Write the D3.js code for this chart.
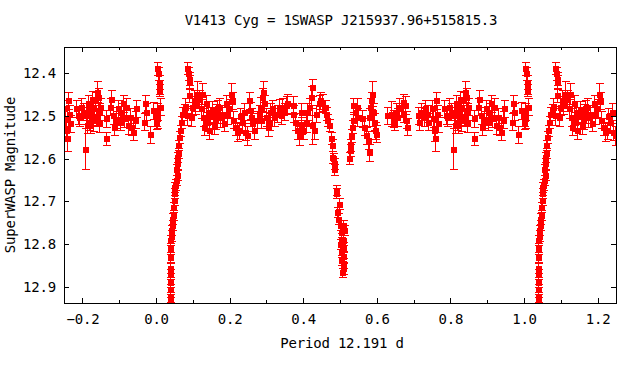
<!DOCTYPE html>
<html>
<head>
<meta charset="utf-8">
<script src="https://cdn.jsdelivr.net/npm/d3@7"></script>
<style>
	body { margin: 0; background: #fff; }
	text { font-family: "DejaVu Sans Mono", monospace; font-size: 14px; letter-spacing: -0.2px; fill: #000; }
</style>
</head>
<body>
<div id="chart"></div>
<script>
// phase, magnitude, error  (one cycle, drawn again at phase-1 and phase+1)
const brightSpikes = [
	[0.003, 12.388, 0.015], [0.005, 12.400, 0.015], [0.007, 12.420, 0.017], [0.008, 12.431, 0.016], [0.009, 12.439, 0.015],
	[0.085, 12.388, 0.014], [0.087, 12.400, 0.015], [0.089, 12.412, 0.015], [0.091, 12.420, 0.016], [0.089, 12.451, 0.017],
];

const primaryEgress = [
	[0.038, 12.935, 0.012], [0.039, 12.924, 0.012], [0.038, 12.905, 0.012], [0.038, 12.888, 0.012],
	[0.038, 12.870, 0.012], [0.037, 12.856, 0.012], [0.037, 12.830, 0.012], [0.039, 12.810, 0.012],
	[0.039, 12.791, 0.012], [0.040, 12.780, 0.012], [0.041, 12.767, 0.012], [0.043, 12.755, 0.012],
	[0.044, 12.740, 0.012], [0.047, 12.732, 0.012], [0.047, 12.713, 0.012], [0.048, 12.697, 0.012],
	[0.050, 12.681, 0.012], [0.050, 12.666, 0.012], [0.052, 12.660, 0.012], [0.053, 12.650, 0.012],
	[0.056, 12.638, 0.012], [0.055, 12.625, 0.012], [0.058, 12.611, 0.012], [0.058, 12.595, 0.012],
	[0.060, 12.587, 0.012], [0.059, 12.568, 0.012], [0.062, 12.549, 0.013], [0.065, 12.533, 0.013],
	[0.067, 12.513, 0.014], [0.071, 12.494, 0.015], [0.076, 12.486, 0.015],
];

const secondaryEclipse = [
	[0.458, 12.478, 0.015], [0.461, 12.494, 0.015], [0.466, 12.509, 0.015], [0.470, 12.521, 0.015],
	[0.475, 12.552, 0.014], [0.477, 12.568, 0.014], [0.479, 12.595, 0.014], [0.481, 12.599, 0.012],
	[0.483, 12.611, 0.012], [0.484, 12.625, 0.012], [0.488, 12.674, 0.012], [0.490, 12.681, 0.012],
	[0.496, 12.705, 0.012], [0.493, 12.724, 0.012], [0.495, 12.740, 0.012], [0.500, 12.756, 0.012],
	[0.509, 12.756, 0.012], [0.502, 12.771, 0.012], [0.511, 12.767, 0.012], [0.504, 12.787, 0.012],
	[0.509, 12.791, 0.012], [0.500, 12.799, 0.012], [0.507, 12.807, 0.012], [0.502, 12.818, 0.012],
	[0.507, 12.829, 0.012], [0.504, 12.838, 0.012], [0.508, 12.845, 0.012], [0.507, 12.857, 0.012],
	[0.506, 12.866, 0.010], [0.524, 12.599, 0.014], [0.526, 12.580, 0.014], [0.527, 12.568, 0.014],
	[0.529, 12.545, 0.015], [0.532, 12.525, 0.015], [0.534, 12.509, 0.015], [0.536, 12.474, 0.016],
	[0.540, 12.490, 0.016],
];

const outOfEclipse = [
	[0.000, 12.513, 0.018], [0.002, 12.490, 0.020], [0.004, 12.505, 0.022], [0.010, 12.478, 0.020],
	[0.080, 12.478, 0.020], [0.083, 12.498, 0.022], [0.094, 12.502, 0.020], [0.098, 12.478, 0.020],
	[0.103, 12.463, 0.024], [0.107, 12.474, 0.020], [0.112, 12.447, 0.030], [0.116, 12.459, 0.020],
	[0.121, 12.482, 0.022], [0.126, 12.447, 0.025], [0.128, 12.502, 0.020], [0.130, 12.525, 0.020],
	[0.135, 12.470, 0.020], [0.139, 12.513, 0.022], [0.142, 12.490, 0.025], [0.144, 12.533, 0.020],
	[0.148, 12.498, 0.020], [0.153, 12.486, 0.021], [0.157, 12.521, 0.020], [0.160, 12.510, 0.020],
	[0.162, 12.494, 0.022], [0.166, 12.482, 0.020], [0.171, 12.478, 0.020], [0.175, 12.502, 0.023],
	[0.180, 12.495, 0.020], [0.185, 12.515, 0.020], [0.190, 12.470, 0.020], [0.194, 12.498, 0.020],
	[0.198, 12.482, 0.021], [0.205, 12.447, 0.025], [0.207, 12.463, 0.020], [0.210, 12.509, 0.020],
	[0.216, 12.525, 0.020], [0.221, 12.537, 0.022], [0.225, 12.533, 0.020], [0.228, 12.500, 0.020],
	[0.234, 12.513, 0.020], [0.238, 12.490, 0.020], [0.243, 12.537, 0.020], [0.248, 12.545, 0.022],
	[0.252, 12.463, 0.020], [0.255, 12.486, 0.020], [0.259, 12.502, 0.020], [0.262, 12.513, 0.021],
	[0.266, 12.533, 0.020], [0.275, 12.509, 0.020], [0.280, 12.494, 0.020], [0.282, 12.478, 0.022],
	[0.284, 12.509, 0.020], [0.289, 12.455, 0.020], [0.292, 12.443, 0.025], [0.293, 12.470, 0.020],
	[0.298, 12.502, 0.020], [0.303, 12.525, 0.022], [0.307, 12.513, 0.020], [0.311, 12.490, 0.020],
	[0.316, 12.482, 0.020], [0.320, 12.502, 0.020], [0.328, 12.494, 0.020], [0.334, 12.482, 0.021],
	[0.339, 12.498, 0.020], [0.343, 12.478, 0.020], [0.348, 12.490, 0.020], [0.352, 12.474, 0.020],
	[0.355, 12.470, 0.022], [0.371, 12.474, 0.020], [0.373, 12.494, 0.020], [0.379, 12.513, 0.020],
	[0.384, 12.533, 0.020], [0.388, 12.545, 0.022], [0.393, 12.490, 0.020], [0.395, 12.521, 0.020],
	[0.400, 12.533, 0.020], [0.407, 12.517, 0.020], [0.411, 12.490, 0.020], [0.416, 12.478, 0.020],
	[0.420, 12.455, 0.025], [0.423, 12.432, 0.020], [0.425, 12.520, 0.045], [0.428, 12.533, 0.020],
	[0.434, 12.494, 0.020], [0.443, 12.470, 0.020], [0.447, 12.463, 0.020], [0.452, 12.467, 0.020],
	[0.545, 12.502, 0.020], [0.547, 12.478, 0.020], [0.561, 12.505, 0.020], [0.565, 12.525, 0.020],
	[0.570, 12.545, 0.020], [0.575, 12.556, 0.022], [0.578, 12.585, 0.020], [0.579, 12.502, 0.020],
	[0.582, 12.478, 0.020], [0.585, 12.463, 0.020], [0.588, 12.447, 0.030], [0.591, 12.490, 0.020],
	[0.592, 12.513, 0.020], [0.594, 12.533, 0.020], [0.597, 12.541, 0.020],
	[0.629, 12.498, 0.020], [0.638, 12.494, 0.030], [0.643, 12.505, 0.020], [0.647, 12.513, 0.020],
	[0.651, 12.490, 0.020], [0.656, 12.502, 0.020], [0.660, 12.478, 0.020], [0.670, 12.494, 0.020],
	[0.672, 12.467, 0.020], [0.676, 12.474, 0.020], [0.679, 12.509, 0.020], [0.681, 12.525, 0.020],
	[0.711, 12.498, 0.020], [0.715, 12.513, 0.020], [0.721, 12.490, 0.020], [0.727, 12.502, 0.020],
	[0.730, 12.482, 0.020], [0.736, 12.494, 0.020], [0.739, 12.513, 0.020], [0.751, 12.482, 0.020],
	[0.754, 12.505, 0.020], [0.756, 12.533, 0.025], [0.758, 12.552, 0.030], [0.760, 12.463, 0.020],
	[0.763, 12.494, 0.020], [0.765, 12.517, 0.020],
	[0.783, 12.482, 0.020], [0.788, 12.498, 0.020], [0.792, 12.502, 0.020], [0.797, 12.478, 0.020],
	[0.801, 12.490, 0.020], [0.806, 12.577, 0.048], [0.810, 12.498, 0.020], [0.812, 12.520, 0.020],
	[0.815, 12.470, 0.020], [0.818, 12.485, 0.020], [0.819, 12.513, 0.020], [0.822, 12.520, 0.020],
	[0.824, 12.494, 0.020], [0.826, 12.460, 0.020], [0.828, 12.482, 0.020], [0.830, 12.510, 0.025],
	[0.833, 12.463, 0.020], [0.836, 12.502, 0.020], [0.839, 12.443, 0.025], [0.840, 12.500, 0.020],
	[0.842, 12.455, 0.020], [0.844, 12.490, 0.020], [0.845, 12.517, 0.020], [0.847, 12.478, 0.020],
	[0.865, 12.505, 0.020], [0.865, 12.552, 0.015], [0.874, 12.478, 0.020], [0.878, 12.459, 0.020],
	[0.883, 12.498, 0.020], [0.887, 12.525, 0.020], [0.892, 12.509, 0.020], [0.896, 12.482, 0.020],
	[0.901, 12.513, 0.020], [0.905, 12.490, 0.020], [0.910, 12.470, 0.020], [0.914, 12.505, 0.020],
	[0.919, 12.478, 0.020], [0.923, 12.521, 0.020], [0.928, 12.502, 0.020], [0.933, 12.525, 0.020],
	[0.937, 12.537, 0.020], [0.942, 12.509, 0.020], [0.946, 12.482, 0.020], [0.967, 12.513, 0.020],
	[0.969, 12.470, 0.020], [0.973, 12.490, 0.020], [0.984, 12.543, 0.020], [0.993, 12.486, 0.020],
	[0.999, 12.502, 0.020],
];

const xMajorTicks = [-0.2, 0.0, 0.2, 0.4, 0.6, 0.8, 1.0, 1.2];
const xMinorTicks = [-0.1, 0.1, 0.3, 0.5, 0.7, 0.9, 1.1];
const yTicks = [12.4, 12.5, 12.6, 12.7, 12.8, 12.9];

const title = 'V1413 Cyg = 1SWASP J215937.96+515815.3';
const xTitle = 'Period 12.191 d';
const yTitle = 'SuperWASP Magnitude';

const width = 640, height = 384;
const plot = { left: 64, right: 616, top: 47, bottom: 303 };
const red = '#ff0000';

const x = d3.scaleLinear().domain([-0.25, 1.25]).range([plot.left, plot.right]);
const y = d3.scaleLinear().domain([12.338, 12.938]).range([plot.top, plot.bottom]);

const svg = d3.select('#chart')
	.append('svg')
	.attr('width', width)
	.attr('height', height);

svg.append('defs').append('clipPath')
	.attr('id', 'clip')
	.append('rect')
	.attr('x', plot.left)
	.attr('y', plot.top)
	.attr('width', plot.right - plot.left)
	.attr('height', plot.bottom - plot.top);

// fold: show each observation at phase, phase-1 and phase+1 inside the window
const rows = [].concat(outOfEclipse, brightSpikes, primaryEgress, secondaryEclipse);
const points = [];
rows.forEach(d => {
	[-1, 0, 1].forEach(k => {
		const p = d[0] + k;
		if (p >= -0.25 && p <= 1.25) points.push({ phase: p, mag: d[1], err: d[2] });
	});
});
points.sort((a, b) => a.phase - b.phase);

const marks = svg.append('g')
	.attr('clip-path', 'url(#clip)')
	.attr('shape-rendering', 'crispEdges');

const cap = 4;
const pt = marks.selectAll('g.pt')
	.data(points)
	.enter()
	.append('g')
	.attr('class', 'pt');

pt.append('path')
	.attr('d', d => {
		const px = Math.round(x(d.phase)) + 0.5;
		const y0 = Math.round(y(d.mag - d.err)) + 0.5;
		const y1 = Math.round(y(d.mag + d.err)) + 0.5;
		return `M${px},${y0}V${y1}M${px - cap},${y0}H${px + cap}M${px - cap},${y1}H${px + cap}`;
	})
	.attr('stroke', red)
	.attr('stroke-width', 1)
	.attr('fill', 'none');

pt.append('rect')
	.attr('x', d => Math.round(x(d.phase)) - 2.5)
	.attr('y', d => Math.round(y(d.mag)) - 2.5)
	.attr('width', 6)
	.attr('height', 6)
	.attr('fill', red);

// axes: inward ticks, mirrored on top and right
const axes = svg.append('g').attr('shape-rendering', 'crispEdges');

axes.append('g')
	.attr('transform', `translate(0,${plot.bottom})`)
	.call(d3.axisBottom(x).tickValues(xMajorTicks).tickFormat(d3.format('.1f')).tickSize(-5).tickPadding(11));
axes.append('g')
	.attr('transform', `translate(0,${plot.bottom})`)
	.call(d3.axisBottom(x).tickValues(xMinorTicks).tickFormat('').tickSize(-3));
axes.append('g')
	.attr('transform', `translate(0,${plot.top})`)
	.call(d3.axisTop(x).tickValues(xMajorTicks).tickFormat('').tickSize(-5));
axes.append('g')
	.attr('transform', `translate(0,${plot.top})`)
	.call(d3.axisTop(x).tickValues(xMinorTicks).tickFormat('').tickSize(-3));
axes.append('g')
	.attr('transform', `translate(${plot.left},0)`)
	.call(d3.axisLeft(y).tickValues(yTicks).tickFormat(d3.format('.1f')).tickSize(-5).tickPadding(8));
axes.append('g')
	.attr('transform', `translate(${plot.right},0)`)
	.call(d3.axisRight(y).tickValues(yTicks).tickFormat('').tickSize(-5));

axes.selectAll('.domain').remove();
axes.selectAll('.tick line').attr('stroke', '#000');
axes.selectAll('text').attr('font-family', null).attr('font-size', null);

axes.append('rect')
	.attr('x', plot.left + 0.5)
	.attr('y', plot.top + 0.5)
	.attr('width', plot.right - plot.left)
	.attr('height', plot.bottom - plot.top)
	.attr('fill', 'none')
	.attr('stroke', '#000');

svg.append('text')
	.attr('x', 341)
	.attr('y', 25)
	.attr('text-anchor', 'middle')
	.text(title);

svg.append('text')
	.attr('x', 342)
	.attr('y', 348)
	.attr('text-anchor', 'middle')
	.text(xTitle);

svg.append('text')
	.attr('transform', 'translate(15,175) rotate(-90)')
	.attr('text-anchor', 'middle')
	.text(yTitle);
</script>
</body>
</html>
